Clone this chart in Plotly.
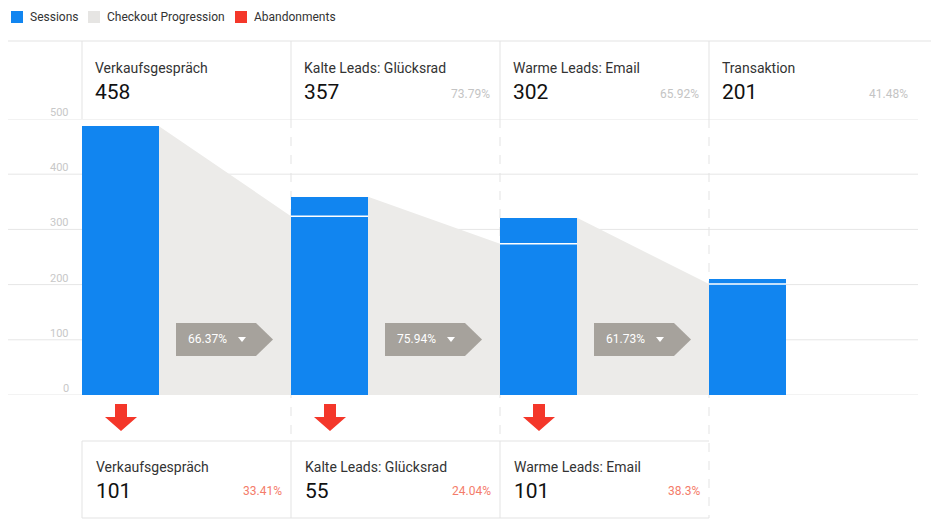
import plotly.graph_objects as go

steps = ["Verkaufsgespräch", "Kalte Leads: Glücksrad", "Warme Leads: Email", "Transaktion"]
step_values = ["458", "357", "302", "201"]
step_rates = ["", "73.79%", "65.92%", "41.48%"]
sessions = [487, 359, 321, 210]
progression = [324, 274, 201]
progress_rates = ["66.37%", "75.94%", "61.73%"]
aband_names = ["Verkaufsgespräch", "Kalte Leads: Glücksrad", "Warme Leads: Email"]
aband_values = ["101", "55", "101"]
aband_rates = ["33.41%", "24.04%", "38.3%"]
yticks = [0, 100, 200, 300, 400, 500]

W, H = 939, 529
OX, OY = 8, 8  # page body offset
BLUE = "#1185f0"; GREYA = "#ecebe9"; TAG = "#a6a29c"; RED = "#f4372a"
BW = 77 / 209
FONT = "Roboto"

def px(x): return max(0.0, (x - OX) / W)
def py(y): return 1 - (y - OY) / H

fig = go.Figure()
for i, p in enumerate(progression):
    x0 = i + BW; x1 = i + 1
    fig.add_trace(go.Scatter(x=[x0, x0, x1, x1, x0], y=[0, sessions[i], p, 0, 0],
                             fill="toself", fillcolor=GREYA, line=dict(width=0),
                             mode="lines", hoverinfo="skip", showlegend=False))
fig.add_trace(go.Bar(x=[i + BW / 2 for i in range(4)], y=sessions, width=BW,
                     marker=dict(color=BLUE, line=dict(width=0)), showlegend=False))

shapes = []; ann = []
for t in yticks:
    shapes.append(dict(type="line", xref="paper", yref="y", x0=px(0), x1=px(918), y0=t, y1=t,
                       line=dict(color="#e6e6e6", width=1), layer="below"))
    ann.append(dict(xref="paper", yref="y", x=px(71), y=t, text=str(t), showarrow=False,
                    xanchor="right", yanchor="bottom", yshift=-2, font=dict(size=11, color="#c8c8c8", family=FONT)))
for i, p in enumerate(progression):
    shapes.append(dict(type="line", xref="x", yref="y", x0=i + 1, x1=i + 1 + BW, y0=p, y1=p,
                       line=dict(color="white", width=1.5)))
shapes.append(dict(type="line", xref="paper", yref="paper", x0=px(0), x1=1, y0=py(41), y1=py(41), line=dict(color="#e3e3e3", width=1)))
shapes.append(dict(type="line", xref="paper", yref="paper", x0=px(82), x1=px(709), y0=py(441), y1=py(441), line=dict(color="#e3e3e3", width=1)))
shapes.append(dict(type="line", xref="paper", yref="paper", x0=px(82), x1=px(709), y0=py(518), y1=py(518), line=dict(color="#e3e3e3", width=1)))
for k in range(4):
    xp = px(82 + 209 * k)
    shapes.append(dict(type="line", xref="paper", yref="paper", x0=xp, x1=xp, y0=py(41), y1=py(119), line=dict(color="#e3e3e3", width=1)))
    if k > 0:
        shapes.append(dict(type="line", xref="paper", yref="paper", x0=xp, x1=xp, y0=py(119), y1=py(441 if k < 3 else 518),
                           line=dict(color="#e3e3e3", width=1, dash="dash"), layer="below"))
    if k < 3:
        shapes.append(dict(type="line", xref="paper", yref="paper", x0=xp, x1=xp, y0=py(441), y1=py(518), line=dict(color="#e3e3e3", width=1)))

for i in range(4):
    xl = px(93 + 209 * i); xr = px(283 + 209 * i)
    ann.append(dict(xref="paper", yref="paper", x=xl, y=py(68), text=steps[i], showarrow=False, xanchor="left", yanchor="middle",
                    font=dict(size=14, color="#333", family=FONT)))
    ann.append(dict(xref="paper", yref="paper", x=xl, y=py(92), text=step_values[i], showarrow=False, xanchor="left", yanchor="middle",
                    font=dict(size=21, color="#111", family=FONT)))
    if step_rates[i]:
        ann.append(dict(xref="paper", yref="paper", x=xr, y=py(94), text=step_rates[i], showarrow=False, xanchor="right", yanchor="middle",
                        font=dict(size=12, color="#c4c4c4", family=FONT)))
for i in range(3):
    xl = px(94 + 209 * i); xr = px(284 + 209 * i)
    ann.append(dict(xref="paper", yref="paper", x=xl, y=py(467), text=aband_names[i], showarrow=False, xanchor="left", yanchor="middle",
                    font=dict(size=14, color="#333", family=FONT)))
    ann.append(dict(xref="paper", yref="paper", x=xl, y=py(491), text=aband_values[i], showarrow=False, xanchor="left", yanchor="middle",
                    font=dict(size=21, color="#111", family=FONT)))
    ann.append(dict(xref="paper", yref="paper", x=xr, y=py(491), text=aband_rates[i], showarrow=False, xanchor="right", yanchor="middle",
                    font=dict(size=12, color="#f47c6a", family=FONT)))
    c = 121 + 209 * i
    pts = [(c - 6, 404), (c + 6, 404), (c + 6, 417), (c + 16, 417), (c, 431), (c - 16, 417), (c - 6, 417)]
    path = "M " + " L ".join(f"{px(x)},{py(y)}" for x, y in pts) + " Z"
    shapes.append(dict(type="path", xref="paper", yref="paper", path=path, fillcolor=RED, line=dict(width=0)))
    x0 = 176 + 209 * i
    tp = [(x0, 323), (x0 + 80, 323), (x0 + 97, 339.5), (x0 + 80, 356), (x0, 356)]
    path = "M " + " L ".join(f"{px(x)},{py(y)}" for x, y in tp) + " Z"
    shapes.append(dict(type="path", xref="paper", yref="paper", path=path, fillcolor=TAG, line=dict(width=0)))
    ann.append(dict(xref="paper", yref="paper", x=px(x0 + 10), y=py(339), text=progress_rates[i], showarrow=False, xanchor="left", yanchor="middle",
                    font=dict(size=12, color="white", family=FONT)))
    tri = [(x0 + 62, 337), (x0 + 70, 337), (x0 + 66, 342)]
    path = "M " + " L ".join(f"{px(x)},{py(y)}" for x, y in tri) + " Z"
    shapes.append(dict(type="path", xref="paper", yref="paper", path=path, fillcolor="white", line=dict(width=0)))

for xs, col, lab in [(11, BLUE, "Sessions"), (88, "#e6e5e3", "Checkout Progression"), (235, RED, "Abandonments")]:
    shapes.append(dict(type="rect", xref="paper", yref="paper", x0=px(xs), x1=px(xs + 12), y0=py(11), y1=py(23), fillcolor=col, line=dict(width=0)))
    ann.append(dict(xref="paper", yref="paper", x=px(xs + 17), y=py(17), text=lab, showarrow=False, xanchor="left", yanchor="middle",
                    font=dict(size=12, color="#333", family=FONT)))

fig.update_layout(width=W, height=H, margin=dict(l=0, r=0, t=0, b=0), plot_bgcolor="white", paper_bgcolor="white",
                  shapes=shapes, annotations=ann, showlegend=False, bargap=0,
                  xaxis=dict(domain=[0, px(918)], range=[(OX - 82) / 209, 4], visible=False, fixedrange=True),
                  yaxis=dict(domain=[py(395), py(119)], range=[0, 500], visible=False, fixedrange=True))
fig.write_html("out.html")
